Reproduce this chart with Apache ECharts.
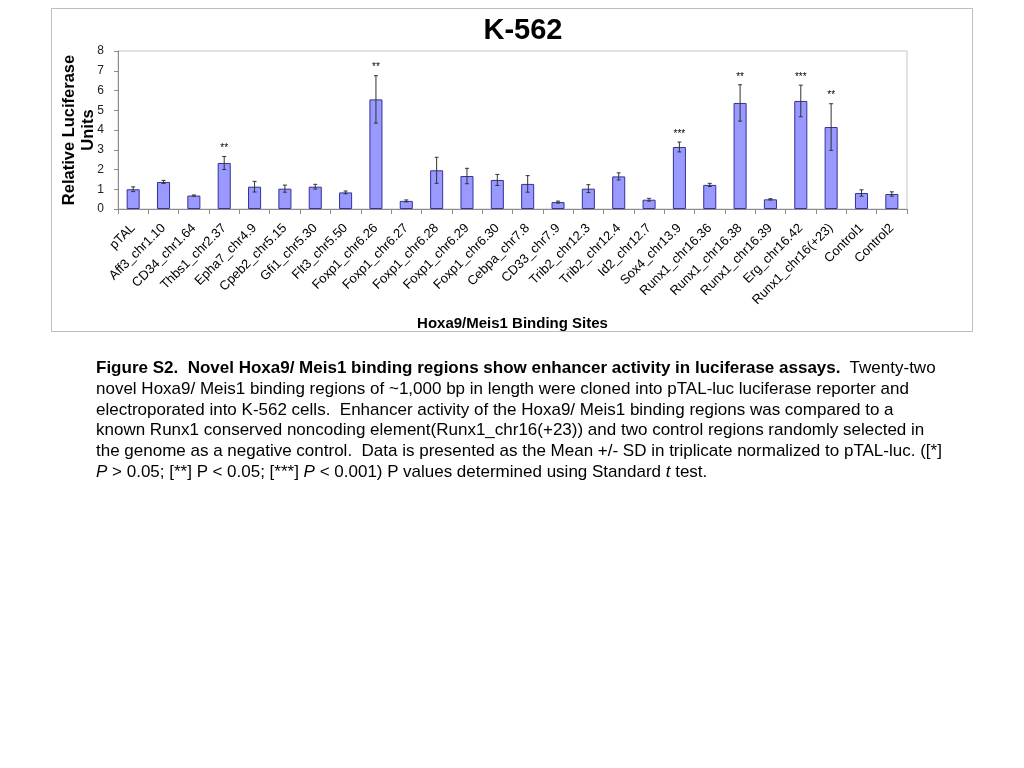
<!DOCTYPE html>
<html>
<head>
<meta charset="utf-8">
<script src="https://cdn.jsdelivr.net/npm/echarts@6/dist/echarts.min.js"></script>
<style>
html,body{margin:0;padding:0;background:#fff;}
#chart{position:absolute;left:0;top:0;width:1024px;height:768px;}
#caption{position:absolute;left:96px;top:358px;font-family:"Liberation Sans",Arial,sans-serif;font-size:17px;line-height:20.8px;color:#000;white-space:nowrap;}
</style>
</head>
<body>
<div id="chart"></div>
<div id="caption">
<b>Figure S2.&nbsp; Novel Hoxa9/ Meis1 binding regions show enhancer activity in luciferase assays.</b>&nbsp; Twenty-two<br>
novel Hoxa9/ Meis1 binding regions of ~1,000 bp in length were cloned into pTAL-luc luciferase reporter and<br>
electroporated into K-562 cells.&nbsp; Enhancer activity of the Hoxa9/ Meis1 binding regions was compared to a<br>
known Runx1 conserved noncoding element(Runx1_chr16(+23)) and two control regions randomly selected in<br>
the genome as a negative control.&nbsp; Data is presented as the Mean +/- SD in triplicate normalized to pTAL-luc. ([*]<br>
<i>P</i> &gt; 0.05; [**] P &lt; 0.05; [***] <i>P</i> &lt; 0.001) P values determined using Standard <i>t</i> test.
</div>
<script>
const categories = ["pTAL","Aff3_chr1.10","CD34_chr1.64","Thbs1_chr2.37","Epha7_chr4.9","Cpeb2_chr5.15","Gfi1_chr5.30","Flt3_chr5.50","Foxp1_chr6.26","Foxp1_chr6.27","Foxp1_chr6.28","Foxp1_chr6.29","Foxp1_chr6.30","Cebpa_chr7.8","CD33_chr7.9","Trib2_chr12.3","Trib2_chr12.4","Id2_chr12.7","Sox4_chr13.9","Runx1_chr16.36","Runx1_chr16.38","Runx1_chr16.39","Erg_chr16.42","Runx1_chr16(+23)","Control1","Control2"];
const means = [1.00,1.37,0.68,2.33,1.13,1.03,1.13,0.84,5.55,0.41,1.96,1.67,1.47,1.27,0.35,1.03,1.65,0.47,3.14,1.22,5.37,0.49,5.47,4.15,0.81,0.76];
const sds = [0.12,0.08,0.03,0.33,0.27,0.18,0.12,0.07,1.20,0.05,0.66,0.39,0.28,0.42,0.05,0.20,0.18,0.07,0.25,0.08,0.92,0.03,0.80,1.18,0.16,0.11];
const stars = ["","","","**","","","","","**","","","","","","","","","","***","","**","","***","**","",""];
const yTicks = [0,1,2,3,4,5,6,7,8];

const chart = echarts.init(document.getElementById('chart'));
const font = '"Liberation Sans", Arial, sans-serif';
chart.setOption({
  animation:false,
  graphic:[
    {type:'rect',shape:{x:51.5,y:8.5,width:921,height:323},style:{fill:'none',stroke:'#bdbdbd',lineWidth:1},z:-1},
    {type:'text',x:523,y:31,style:{text:'K-562',textAlign:'center',textVerticalAlign:'middle',fontFamily:font,fontSize:29,fontWeight:'bold',fill:'#000'}}
  ],
  grid:{left:118,right:117,top:51,bottom:559,show:true,borderColor:'#c8c8c8',borderWidth:1},
  xAxis:{type:'category',data:categories,
    axisLine:{lineStyle:{color:'#8c8c8c'}},
    axisTick:{show:true,interval:0,length:5,lineStyle:{color:'#8c8c8c'}},
    axisLabel:{interval:0,rotate:45,fontFamily:font,fontSize:13,color:'#000',margin:17},
    name:'Hoxa9/Meis1 Binding Sites',nameLocation:'middle',nameGap:107,
    nameTextStyle:{fontFamily:font,fontSize:15,fontWeight:'bold',color:'#000'}
  },
  yAxis:{type:'value',min:0,max:8,interval:1,
    splitLine:{show:false},
    axisLine:{show:true,lineStyle:{color:'#8c8c8c'}},
    axisTick:{show:true,length:4,lineStyle:{color:'#8c8c8c'}},
    axisLabel:{fontFamily:font,fontSize:12,color:'#222',margin:14,formatter:v=>yTicks.includes(v)?String(v):''},
    name:'Relative Luciferase\nUnits',nameLocation:'middle',nameGap:20,nameMoveOverlap:false,
    nameTextStyle:{fontFamily:font,fontSize:16.5,fontWeight:'bold',color:'#000',lineHeight:19}
  },
  series:[
    {type:'bar',data:means,barWidth:'43%',itemStyle:{color:'#9999ff',borderColor:'#333399',borderWidth:1}},
    {type:'custom',data:means.map((m,i)=>[i,m,sds[i]]),z:5,
      renderItem:function(params,api){
        const i=api.value(0),m=api.value(1),s=api.value(2);
        const st=stars[i];
        const top=api.coord([i,m+s]), bot=api.coord([i,m-s]);
        const cap=2;
        const ch=[
          {type:'line',shape:{x1:top[0],y1:top[1],x2:bot[0],y2:bot[1]},style:{stroke:'#333',lineWidth:1}},
          {type:'line',shape:{x1:top[0]-cap,y1:top[1],x2:top[0]+cap,y2:top[1]},style:{stroke:'#333',lineWidth:1}},
          {type:'line',shape:{x1:bot[0]-cap,y1:bot[1],x2:bot[0]+cap,y2:bot[1]},style:{stroke:'#333',lineWidth:1}}
        ];
        if(st){ch.push({type:'text',style:{text:st,x:top[0],y:top[1]-3,textAlign:'center',textVerticalAlign:'bottom',fontFamily:font,fontSize:10,fill:'#000'}});}
        return {type:'group',children:ch};
      }}
  ]
});
</script>
</body>
</html>
